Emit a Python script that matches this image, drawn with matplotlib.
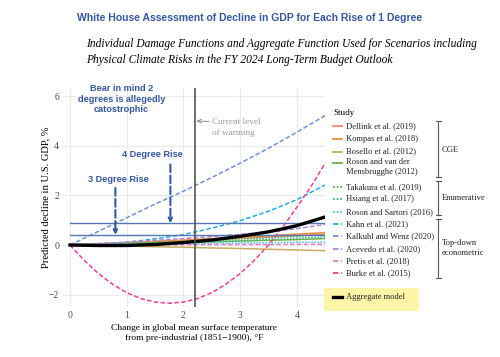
import matplotlib.pyplot as plt
from matplotlib.lines import Line2D
from matplotlib.patches import Rectangle

# temperature grid (deg F above pre-industrial)
temps = [0, 0.5, 1, 1.5, 2, 2.5, 3, 3.5, 4, 4.5]
burke_temps = [0, 0.25, 0.5, 0.75, 1, 1.25, 1.5, 1.75, 2, 2.25, 2.5, 2.75, 3, 3.25,
               3.5, 3.75, 4, 4.25, 4.5]

studies = ["Dellink et al. (2019)", "Kompas et al. (2018)", "Bosello et al. (2012)",
           "Roson and van der\nMensbrugghe (2012)", "Takakura et al. (2019)",
           "Hsiang et al. (2017)", "Roson and Sartori (2016)", "Kahn et al. (2021)",
           "Kalkuhl and Wenz (2020)", "Acevedo et al. (2020)", "Pretis et al. (2018)",
           "Burke et al. (2015)"]

dellink = [0, 0.04, 0.08, 0.13, 0.17, 0.22, 0.27, 0.32, 0.38, 0.44]
kompas = [0, 0.05, 0.10, 0.15, 0.20, 0.26, 0.31, 0.37, 0.44, 0.50]
bosello = [0, -0.02, -0.04, -0.07, -0.09, -0.12, -0.14, -0.17, -0.20, -0.23]
roson_vdm = [0, 0.02, 0.05, 0.08, 0.10, 0.13, 0.16, 0.19, 0.22, 0.26]
takakura = [0, 0.03, 0.07, 0.11, 0.15, 0.19, 0.24, 0.29, 0.35, 0.41]
hsiang = [0, 0.01, 0.03, 0.06, 0.09, 0.13, 0.17, 0.22, 0.27, 0.33]
roson_sartori = [0, 0.01, 0.03, 0.04, 0.05, 0.07, 0.08, 0.09, 0.11, 0.12]
kahn = [0, 0.03, 0.11, 0.25, 0.42, 0.68, 0.98, 1.36, 1.83, 2.42]
kalkuhl = [0, 0.55, 1.10, 1.65, 2.17, 2.72, 3.30, 3.90, 4.55, 5.22]
acevedo = [0, 0.06, 0.12, 0.19, 0.26, 0.34, 0.43, 0.53, 0.66, 0.83]
pretis = [0, 0.0, 0.01, 0.01, 0.01, 0.02, 0.02, 0.02, 0.03, 0.03]
burke = [0, -0.62, -1.15, -1.58, -1.92, -2.16, -2.30, -2.35, -2.30, -2.16, -1.92,
         -1.58, -1.15, -0.62, 0.0, 0.72, 1.52, 2.36, 3.30]
aggregate = [0, -0.02, -0.02, 0.02, 0.10, 0.20, 0.35, 0.53, 0.78, 1.13]

current_warming = 2.2
rise_levels = [0.41, 0.88]
rise_x = [0.8, 1.77]
rise_top = [2.3, 3.25]
rise_labels = ["3 Degree Rise", "4 Degree Rise"]

series = [dellink, kompas, bosello, roson_vdm, takakura, hsiang, roson_sartori,
          kahn, kalkuhl, acevedo, pretis, burke]
colors = ["#f4877a", "#e8913a", "#c8ac5a", "#72b047", "#52bb4a", "#3ebd98",
          "#3cc5d8", "#22aae6", "#6f93d6", "#b183db", "#e57cd0", "#ee3f9a"]
styles = ["-", "-", "-", "-", ":", ":", ":", "--", "--", "--", "--", "--"]

serif = "Liberation Serif"
sans = "Liberation Sans"
blue = "#3457a3"


def line_kw(ls):
    if ls == "--":
        return dict(ls=(0, (3, 1.5)))
    if ls == ":":
        return dict(ls=(0, (1, 1)))
    return dict(ls="-")


fig = plt.figure(figsize=(5, 3.57), dpi=100)
ax = fig.add_axes([0.1264, 0.14, 0.524, 0.6135])

for y, c, ls in zip(series, colors, styles):
    xs = burke_temps if len(y) == len(burke_temps) else temps
    ax.plot(xs, y, color=c, lw=1.1, **line_kw(ls))
ax.plot(temps, aggregate, color="black", lw=2.4, zorder=5)

ax.axvline(current_warming, color="#555555", lw=1.2, zorder=6)
for lev in rise_levels:
    ax.axhline(lev, xmin=0.12 / 4.62, xmax=1, color="#5577b5", lw=1.0)

for x, top, lev in zip(rise_x, rise_top, rise_levels):
    ax.annotate("", xy=(x, lev), xytext=(x, top),
                arrowprops=dict(arrowstyle="-|>", color=blue, lw=1.5, ls="--",
                                mutation_scale=6, shrinkA=0, shrinkB=0))
ax.text(0.85, 2.63, rise_labels[0], color=blue, fontsize=6.6, fontweight="bold",
        family=sans, ha="center", va="center")
ax.text(1.45, 3.64, rise_labels[1], color=blue, fontsize=6.6, fontweight="bold",
        family=sans, ha="center", va="center")
ax.text(0.91, 5.88, "Bear in mind 2\ndegrees is allegedly\ncatostrophic", color=blue,
        fontsize=6.6, fontweight="bold", family=sans, ha="center", va="center",
        linespacing=1.2, clip_on=False)

ax.annotate("Current level\nof warming", xy=(current_warming + 0.03, 5.0),
            xytext=(2.5, 4.75), color="#999999", fontsize=6.6, family=serif,
            va="center", ha="left", linespacing=1.45,
            arrowprops=dict(arrowstyle="->", color="#888888", lw=0.7,
                            shrinkA=0, shrinkB=0, relpos=(0, 0.8)))

ax.set_xlim(-0.12, 4.5)
ax.set_ylim(-2.5, 6.33)
ax.set_xticks([0, 1, 2, 3, 4])
ax.set_yticks([-2, 0, 2, 4, 6])
ax.set_yticklabels(["\u22122", "0", "2", "4", "6"])
ax.grid(color="#ebebeb", lw=0.8)
ax.set_axisbelow(True)
for s in ax.spines.values():
    s.set_visible(False)
ax.tick_params(length=0, labelsize=7, labelcolor="#4d4d4d", pad=3)
for lab in ax.get_xticklabels() + ax.get_yticklabels():
    lab.set_family(serif)
ax.set_xlabel("Change in global mean surface temperature\nfrom pre-industrial (1851\u22121900), \u00b0F",
              family=serif, fontsize=6.8, linespacing=1.25, labelpad=3)
ax.set_ylabel("Predicted decline in U.S. GDP, %", family=serif, fontsize=7.6, labelpad=-1)

# titles
fig.text(0.5, 0.95, "White House Assessment of Decline in GDP for Each Rise of 1 Degree",
         color=blue, fontsize=7.5, fontweight="bold", family=sans, ha="center", va="center")
fig.text(0.172, 0.876, "Individual Damage Functions and Aggregate Function Used for Scenarios including",
         fontsize=8.3, style="italic", family=serif, ha="left", va="center")
fig.text(0.172, 0.832, "Physical Climate Risks in the FY 2024 Long-Term Budget Outlook",
         fontsize=8.3, style="italic", family=serif, ha="left", va="center")

# manual legend in pixel-like figure coordinates
W, H = 500.0, 357.0
def fx(px):
    return px / W
def fy(py):
    return 1 - py / H

fig.text(fx(333), fy(113), "Study", fontsize=6.5, family=serif, va="center")
rows = [126, 139, 151.5, 163.5, 187, 199.3, 211.7, 224, 236, 248.7, 261, 273]
for lab, c, ls, r in zip(studies, colors, styles, rows):
    fig.add_artist(Line2D([fx(333), fx(342)], [fy(r), fy(r)], color=c, lw=1.3,
                          **line_kw(ls)))
    if "\n" in lab:
        fig.text(fx(346), fy(r - 5.5), lab, fontsize=6.1, family=serif, va="top",
                 linespacing=1.35, color="#222222")
    else:
        fig.text(fx(346), fy(r), lab, fontsize=6.1, family=serif, va="center",
                 color="#222222")

brackets = [(121, 177, "CGE", 150), (181, 215, "Enumerative", 198),
            (219, 278, "Top-down\neconometric", 248)]
for top, bot, lab, ly in brackets:
    fig.add_artist(Line2D([fx(438), fx(438)], [fy(top), fy(bot)], color="#555555", lw=0.8))
    for yy in (top, bot):
        fig.add_artist(Line2D([fx(435.5), fx(440.5)], [fy(yy), fy(yy)], color="#555555", lw=0.8))
    fig.text(fx(442), fy(ly), lab, fontsize=6.1, family=serif, va="center", linespacing=1.3,
             color="#222222")

fig.add_artist(Rectangle((fx(324), fy(310.5)), fx(95), 23 / H, facecolor="#fdf5a8",
                         edgecolor="none", transform=fig.transFigure))
fig.add_artist(Line2D([fx(333), fx(342)], [fy(297), fy(297)], color="black", lw=2.4))
fig.text(fx(346), fy(297), "Aggregate model", fontsize=6.1, family=serif, va="center",
         color="#222222")

fig.savefig("out.png", dpi=100)
